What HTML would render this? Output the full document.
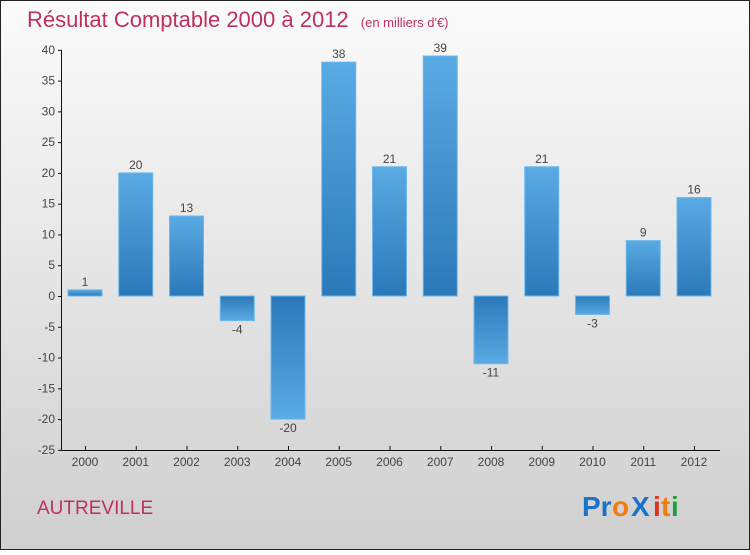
<!DOCTYPE html>
<html><head><meta charset="utf-8"><style>
body{margin:0;width:750px;height:550px;overflow:hidden;font-family:"Liberation Sans",sans-serif}
</style></head><body>
<svg width="750" height="550" xmlns="http://www.w3.org/2000/svg">
<defs>
<linearGradient id="bg" x1="0" y1="0" x2="0" y2="1"><stop offset="0" stop-color="#fbfbfb"/><stop offset="1" stop-color="#cfcfcf"/></linearGradient>
<linearGradient id="pos" x1="0" y1="0" x2="0" y2="1"><stop offset="0" stop-color="#5aaae4"/><stop offset="1" stop-color="#2b79b9"/></linearGradient>
<linearGradient id="neg" x1="0" y1="0" x2="0" y2="1"><stop offset="0" stop-color="#2b79b9"/><stop offset="1" stop-color="#5aaae4"/></linearGradient>
</defs>
<rect x="0.5" y="0.5" width="749" height="549" fill="url(#bg)" stroke="#222"/>
<text x="27" y="27" font-size="22" fill="#c0305c">Résultat Comptable 2000 à 2012 <tspan font-size="13" dx="6">(en milliers d'€)</tspan></text>
<g id="axes"></g>
<g id="bars"></g>
<text x="37" y="514" font-size="19" fill="#c0305c">AUTREVILLE</text>
<g font-size="28" font-weight="bold">
<text x="582" y="516" fill="#1a73c9">Pr</text><text x="612" y="516" fill="#f07d10">o</text><text x="631" y="516" fill="#1a73c9">X</text><text x="653" y="516" fill="#e03020">i</text><text x="661" y="516" fill="#f07d10">t</text><text x="671" y="516" fill="#20a040">i</text>
</g>
</svg>
<script>
const categories=["2000","2001","2002","2003","2004","2005","2006","2007","2008","2009","2010","2011","2012"];
const values=[1,20,13,-4,-20,38,21,39,-11,21,-3,9,16];
const yTicks=[40,35,30,25,20,15,10,5,0,-5,-10,-15,-20,-25];
const NS="http://www.w3.org/2000/svg";
const y=v=>296-v*6.154;
const x=i=>85+i*50.75;
const ax=document.getElementById('axes'),bg=document.getElementById('bars');
function mk(t,a,p){const e=document.createElementNS(NS,t);for(const k in a)e.setAttribute(k,a[k]);p.appendChild(e);return e;}
let l=mk('line',{x1:61.5,y1:50,x2:61.5,y2:450,stroke:'#111'},ax);


l=mk('line',{x1:61,y1:450.5,x2:720,y2:450.5,stroke:'#111'},ax);


yTicks.forEach(v=>{
 mk('line',{x1:58,x2:62,y1:y(v)+.5,y2:y(v)+.5,stroke:'#111'},ax);
 const t=mk('text',{x:55,y:y(v)+4,'text-anchor':'end','font-size':12,fill:'#444'},ax);t.textContent=v;
 
 
});
categories.forEach((c,i)=>{
 mk('line',{x1:x(i)+.5,x2:x(i)+.5,y1:446,y2:451,stroke:'#111'},ax);
 const t=mk('text',{x:x(i),y:466,'text-anchor':'middle','font-size':12,fill:'#444'},ax);t.textContent=c;
 
 
 const v=values[i],top=Math.min(y(v),y(0)),h=Math.abs(y(v)-y(0));
 const r=mk('rect',{x:x(i)-17,y:top,width:34,height:h,fill:v>=0?'url(#pos)':'url(#neg)',stroke:'#6bb8ec','stroke-width':1},bg);
 
 
 const lb=mk('text',{x:x(i),y:v>=0?y(v)-4:y(v)+13,'text-anchor':'middle','font-size':12,fill:'#444'},bg);lb.textContent=v;
 
 
});
</script>
</body></html>
